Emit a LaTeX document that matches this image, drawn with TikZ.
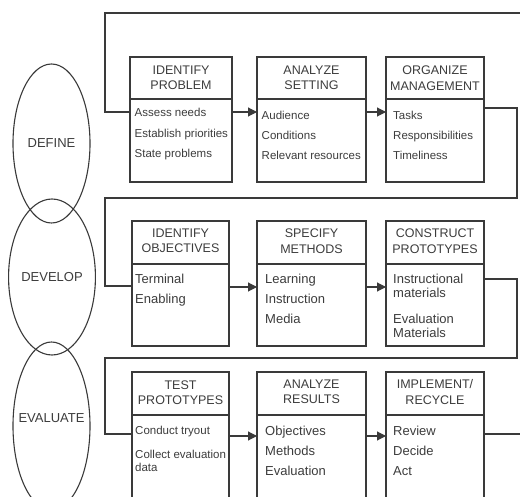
\documentclass[tikz,border=0pt]{standalone}
\usepackage{fontspec}
\setmainfont{Liberation Sans}
\usetikzlibrary{arrows.meta,shapes.geometric}
\definecolor{ln}{HTML}{3A3A3A}
\definecolor{tx}{HTML}{3C3C3C}
\begin{document}
\begin{tikzpicture}[x=1pt,y=-1pt,
  box/.style={draw=ln,line width=1.1pt,rectangle,inner sep=0pt,outer sep=0pt},
  hdr/.style={text=tx,font=\fontsize{12.5}{15.5}\selectfont,align=center,inner sep=0pt},
  bs/.style={text=tx,font=\fontsize{11.5}{13}\selectfont,anchor=base west,inner sep=0pt},
  bl/.style={text=tx,font=\fontsize{13}{14.5}\selectfont,anchor=base west,inner sep=0pt},
  conn/.style={draw=ln,line width=1.1pt},
  arr/.style={conn,-{Triangle[length=9pt,width=9pt]}},
  phase/.style={draw=ln,line width=1.1pt,ellipse,inner sep=0pt,minimum width=77pt,text=tx,font=\fontsize{13}{15}\selectfont},
  lbl/.style={text=tx,font=\fontsize{13}{15}\selectfont,inner sep=0pt}
]
\useasboundingbox (0,0) rectangle (520,497);
\clip (0,0) rectangle (520,497);

% phases
\node[phase,minimum height=159pt] (define) at (51.5,143.5) {DEFINE};
\node[phase,minimum height=156pt] (develop) at (52,277) {DEVELOP};
\node[phase,minimum height=168pt] (evaluate) at (51.5,426) {};
\node[lbl] (evaltxt) at (51.5,418) {EVALUATE};

% boxes row 1
\node[box,minimum width=102pt,minimum height=125pt] (b1) at (181,119.5) {};
\node[box,minimum width=109pt,minimum height=125pt] (b2) at (311.5,119.5) {};
\node[box,minimum width=98pt,minimum height=125pt] (b3) at (435,119.5) {};
% row 2
\node[box,minimum width=97pt,minimum height=125pt] (b4) at (180.5,283.5) {};
\node[box,minimum width=109pt,minimum height=125pt] (b5) at (311.5,283.5) {};
\node[box,minimum width=98pt,minimum height=125pt] (b6) at (435,283.5) {};
% row 3
\node[box,minimum width=97pt,minimum height=148pt] (b7) at (180.5,446) {};
\node[box,minimum width=109pt,minimum height=148pt] (b8) at (311.5,446) {};
\node[box,minimum width=98pt,minimum height=148pt] (b9) at (435,446) {};

% header dividers
\coordinate (d1) at (0,99);
\coordinate (d2) at (0,264);
\coordinate (d3) at (0,415);
\foreach \b in {b1,b2,b3} \draw[conn] (\b.west |- d1) -- (\b.east |- d1);
\foreach \b in {b4,b5,b6} \draw[conn] (\b.west |- d2) -- (\b.east |- d2);
\foreach \b in {b7,b8,b9} \draw[conn] (\b.west |- d3) -- (\b.east |- d3);

% headers
\node[hdr] (h1) at (181,78) {IDENTIFY\\PROBLEM};
\node[hdr] (h2) at (311.5,78) {ANALYZE\\SETTING};
\node[hdr] (h3) at (435,78) {ORGANIZE\\MANAGEMENT};
\node[hdr] (h4) at (180.5,241) {IDENTIFY\\OBJECTIVES};
\node[hdr] (h5) at (311.5,241) {SPECIFY\\METHODS};
\node[hdr] (h6) at (435,241) {CONSTRUCT\\PROTOTYPES};
\node[hdr] (h7) at (180.5,392.5) {TEST\\PROTOTYPES};
\node[hdr] (h8) at (311.5,392) {ANALYZE\\RESULTS};
\node[hdr] (h9) at (435,392) {IMPLEMENT/\\RECYCLE};

% body texts
\node[bs] (t1a) at (134.5,117) {Assess needs};
\node[bs] (t1b) at (134.5,137.5) {Establish priorities};
\node[bs] (t1c) at (134.5,158) {State problems};
\node[bs] (t2a) at (261.5,120) {Audience};
\node[bs] (t2b) at (261.5,140) {Conditions};
\node[bs] (t2c) at (261.5,160) {Relevant resources};
\node[bs] (t3a) at (393,120) {Tasks};
\node[bs] (t3b) at (393,140) {Responsibilities};
\node[bs] (t3c) at (393,160) {Timeliness};

\node[bl] (t4a) at (135,283.5) {Terminal};
\node[bl] (t4b) at (135,303.5) {Enabling};
\node[bl] (t5a) at (265,283.5) {Learning};
\node[bl] (t5b) at (265,303.5) {Instruction};
\node[bl] (t5c) at (265,323.5) {Media};
\node[bl] (t6a) at (393,283.5) {Instructional};
\node[bl] (t6b) at (393,297.5) {materials};
\node[bl] (t6c) at (393,323.5) {Evaluation};
\node[bl] (t6d) at (393,337.5) {Materials};

\node[bs] (t7a) at (135,435) {Conduct tryout};
\node[bs] (t7b) at (135,458) {Collect evaluation};
\node[bs] (t7c) at (135,471) {data};
\node[bl] (t8a) at (265,435.5) {Objectives};
\node[bl] (t8b) at (265,455.5) {Methods};
\node[bl] (t8c) at (265,475.5) {Evaluation};
\node[bl] (t9a) at (393,435.5) {Review};
\node[bl] (t9b) at (393,455.5) {Decide};
\node[bl] (t9c) at (393,475.5) {Act};

% connector coordinates
\coordinate (y1) at (0,112);
\coordinate (y2) at (0,287);
\coordinate (y3) at (0,436);
\coordinate (in1) at (0,112);
\coordinate (in2) at (0,286);
\coordinate (in3) at (0,434);
\coordinate (out3) at (0,108);
\coordinate (out6) at (0,279);
\coordinate (out9) at (0,434);
\coordinate (topR) at (521,13);
\coordinate (topL) at (105,13);
\coordinate (r12) at (517,198);
\coordinate (l12) at (105,198);
\coordinate (r23) at (517,358);
\coordinate (l23) at (105,358);
\coordinate (endR) at (521,434);

% loops
\draw[conn] (topR) -- (topL) |- (b1.west |- in1);
\draw[conn] (b3.east |- out3) -| (r12) -- (l12) |- (b4.west |- in2);
\draw[conn] (b6.east |- out6) -| (r23) -- (l23) |- (b7.west |- in3);
\draw[conn] (b9.east |- out9) -- (endR);

% arrows
\draw[arr] (b1.east |- y1) -- (b2.west |- y1);
\draw[arr] (b2.east |- y1) -- (b3.west |- y1);
\draw[arr] (b4.east |- y2) -- (b5.west |- y2);
\draw[arr] (b5.east |- y2) -- (b6.west |- y2);
\draw[arr] (b7.east |- y3) -- (b8.west |- y3);
\draw[arr] (b8.east |- y3) -- (b9.west |- y3);
\end{tikzpicture}
\end{document}
